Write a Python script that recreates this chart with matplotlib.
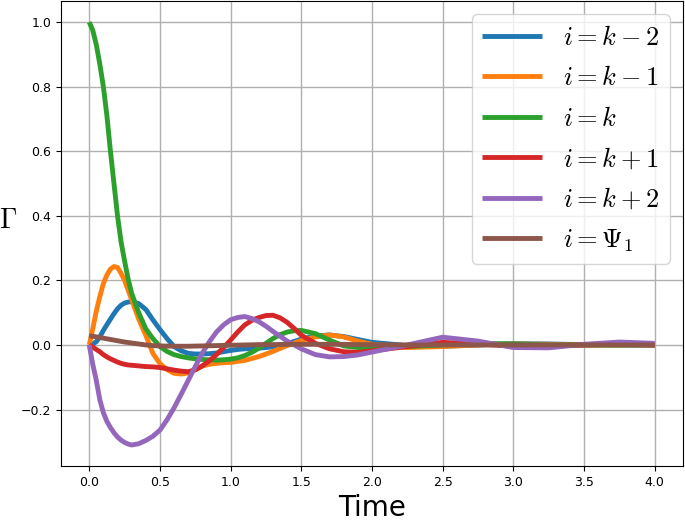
import numpy as np
import matplotlib
matplotlib.use("Agg")
import matplotlib.pyplot as plt

plt.rcParams.update({'mathtext.fontset': 'cm'})

time = [0.0, 0.025, 0.05, 0.075, 0.1, 0.125, 0.15, 0.175, 0.2, 0.225, 0.25, 0.275, 0.3, 0.35, 0.4, 0.45,
        0.5, 0.55, 0.6, 0.65, 0.7, 0.75, 0.8, 0.85, 0.9, 0.95,
        1.0, 1.05, 1.1, 1.15, 1.2, 1.25, 1.3, 1.35, 1.4, 1.45,
        1.5, 1.6, 1.7, 1.8, 1.9, 2.0,
        2.25, 2.5, 2.75, 3.0, 3.25, 3.5, 3.75, 4.0]

gamma_km2 = [0.0, 0.003, 0.01, 0.025, 0.045, 0.063, 0.08, 0.097, 0.112, 0.123, 0.13, 0.133, 0.134, 0.128, 0.11, 0.078,
             0.048, 0.02, -0.005, -0.018, -0.026, -0.028, -0.028, -0.027, -0.025, -0.021,
             -0.017, -0.014, -0.012, -0.011, -0.01, -0.008, -0.006, -0.001, 0.004, 0.011,
             0.018, 0.028, 0.031, 0.026, 0.017, 0.008,
             -0.002, -0.004, 0.0, 0.004, 0.003, 0.001, 0.0, 0.0]
gamma_km1 = [0.0, 0.05, 0.105, 0.15, 0.19, 0.217, 0.235, 0.243, 0.24, 0.222, 0.2, 0.17, 0.14, 0.08, 0.03, -0.026,
             -0.058, -0.076, -0.088, -0.09, -0.087, -0.077, -0.065, -0.06, -0.057, -0.055,
             -0.054, -0.051, -0.048, -0.042, -0.036, -0.028, -0.02, -0.011, -0.002, 0.006,
             0.014, 0.025, 0.031, 0.025, 0.012, 0.002,
             -0.008, -0.005, 0.0, 0.003, 0.002, 0.0, 0.0, 0.0]
gamma_k = [1.0, 0.975, 0.93, 0.87, 0.8, 0.71, 0.6, 0.5, 0.4, 0.32, 0.26, 0.205, 0.16, 0.1, 0.05, 0.02,
           -0.005, -0.02, -0.03, -0.036, -0.04, -0.043, -0.045, -0.046, -0.047, -0.046,
           -0.044, -0.04, -0.033, -0.023, -0.01, 0.005, 0.02, 0.032, 0.04, 0.044,
           0.045, 0.035, 0.015, -0.003, -0.008, -0.008,
           -0.005, 0.0, 0.005, 0.003, 0.0, 0.0, 0.0, 0.0]
gamma_kp1 = [0.0, -0.007, -0.014, -0.021, -0.03, -0.037, -0.043, -0.048, -0.053, -0.057, -0.06, -0.062, -0.063, -0.065, -0.067, -0.068,
             -0.07, -0.074, -0.078, -0.081, -0.083, -0.077, -0.065, -0.049, -0.03, -0.008,
             0.015, 0.04, 0.062, 0.076, 0.085, 0.091, 0.092, 0.084, 0.07, 0.051,
             0.03, 0.005, -0.012, -0.021, -0.023, -0.018,
             -0.005, 0.008, 0.003, -0.004, -0.004, 0.0, 0.002, 0.0]
gamma_kp2 = [0.0, -0.06, -0.11, -0.17, -0.21, -0.237, -0.256, -0.272, -0.285, -0.295, -0.302, -0.307, -0.31, -0.306, -0.296, -0.283,
             -0.264, -0.232, -0.195, -0.153, -0.11, -0.067, -0.025, 0.01, 0.04, 0.062,
             0.078, 0.085, 0.088, 0.082, 0.072, 0.058, 0.042, 0.027, 0.012, 0.0,
             -0.012, -0.03, -0.037, -0.036, -0.031, -0.022,
             0.0, 0.024, 0.012, -0.008, -0.009, 0.002, 0.009, 0.005]
gamma_psi = [0.028, 0.027, 0.025, 0.023, 0.021, 0.019, 0.017, 0.015, 0.013, 0.011, 0.009, 0.0075, 0.006, 0.003, 0.0, -0.002,
             -0.003, -0.0035, -0.004, -0.004, -0.004, -0.0035, -0.003, -0.0025, -0.002, -0.0015,
             -0.001, -0.0005, 0.0, 0.0005, 0.001, 0.001, 0.001, 0.0015, 0.002, 0.002,
             0.002, 0.002, 0.002, 0.002, 0.001, 0.001,
             0.0, 0.0, 0.0, 0.0, 0.0, 0.0, 0.0, 0.0]

series = [gamma_km2, gamma_km1, gamma_k, gamma_kp1, gamma_kp2, gamma_psi]
labels = [r"$i=k-2$", r"$i=k-1$", r"$i=k$", r"$i=k+1$", r"$i=k+2$", r"$i=\Psi_1$"]

fig = plt.figure(figsize=(6.85, 5.22), dpi=100)
ax = fig.add_axes([0.089, 0.107, 0.908, 0.891])

for l in range(len(series)):
    ax.plot(time, series[l], linewidth=3.5, color="C" + str(l), label=labels[l],
            solid_joinstyle="round", solid_capstyle="butt")

ax.grid(linewidth=1)
ax.tick_params(labelsize=9)
ax.set_xlabel("Time", fontsize=20, labelpad=4)
ax.set_ylabel(r"$\Gamma$", fontsize=20, rotation=0, labelpad=9)
ax.legend(loc="upper right", fontsize=19, handlelength=2.25, labelspacing=0.55)

fig.savefig("out.png", dpi=100)
